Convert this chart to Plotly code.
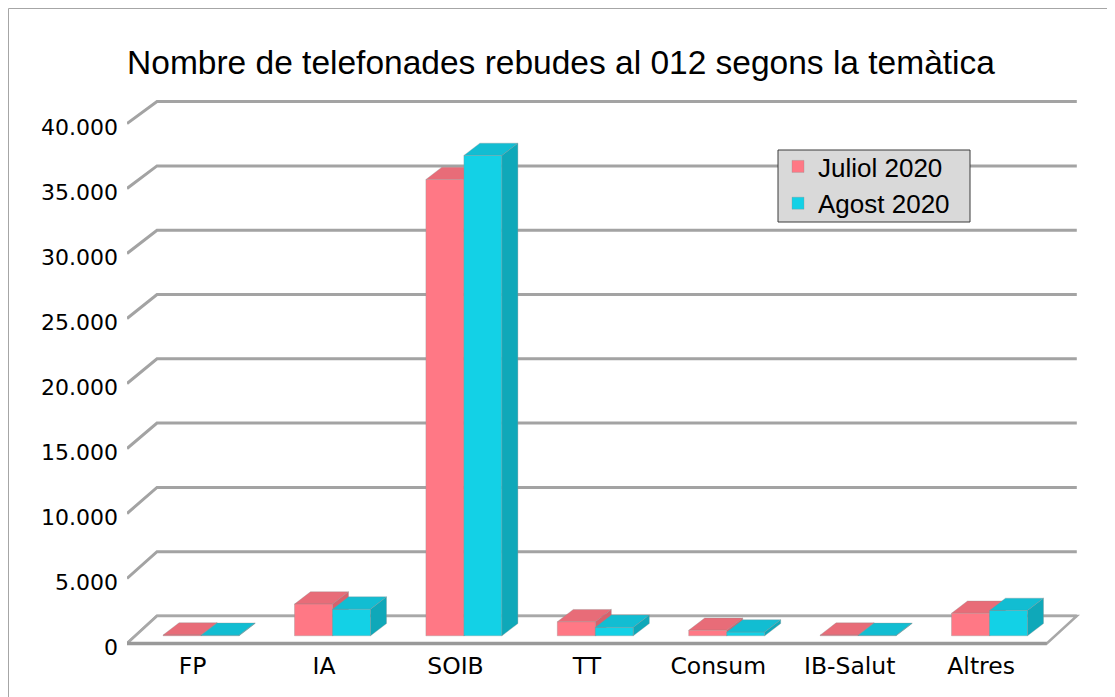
import plotly.graph_objects as go

# ---------------- data ----------------
categories = ["FP", "IA", "SOIB", "TT", "Consum", "IB-Salut", "Altres"]
juliol_2020 = [60, 2440, 35100, 1080, 420, 50, 1730]
agost_2020 = [40, 2050, 36950, 650, 290, 30, 1950]
series_names = ["Juliol 2020", "Agost 2020"]
y_ticks = [0, 5000, 10000, 15000, 20000, 25000, 30000, 35000, 40000]
title_text = "Nombre de telefonades rebudes al 012 segons la temàtica"

# ---------------- layout geometry (figure pixel coords) ----------------
W, H = 1115, 697
ML, MR, MT, MB = 119, 43, 87, 50
PX_PER_CAT = 131.4
PX_PER_VAL = 0.013          # front plane scale
BACK_K = 0.01286 / 0.013    # back wall is slightly compressed (perspective)
FRONT_ZERO_PX = 635.5

plot_w = W - ML - MR
plot_h = H - MT - MB
x_min = -0.5
x_max = x_min + plot_w / PX_PER_CAT
y_min = -(H - MB - FRONT_ZERO_PX) / PX_PER_VAL
y_max = y_min + plot_h / PX_PER_VAL


def dxu(px):
    return px / PX_PER_CAT


def dyu(px):
    return px / PX_PER_VAL


def paper_x(px):
    return (px - ML) / plot_w


def paper_y(py):
    return (H - MB - py) / plot_h


WALL_DX, WALL_DY = dxu(30), dyu(27.5)
BAR_F = 0.28
BAR_X0 = BAR_F * WALL_DX
BAR_BASE = BAR_F * WALL_DY
BAR_W = dxu(38)
TOP_DX, TOP_DY = dxu(16), dyu(12.3)
x_last = len(categories) - 0.5

front_cols = ["#ff7885", "#13d1e6"]
top_cols = ["#e86c78", "#12bdd2"]
side_cols = ["#d8616c", "#0fa8b9"]
edge_col = "rgba(140,140,140,0.55)"

shapes = []
# back wall grid lines (diagonal + horizontal)
for v in y_ticks:
    vb = WALL_DY + v * BACK_K
    shapes.append(dict(
        type="path", xref="x", yref="y", layer="below",
        path=f"M {x_min},{v} L {x_min + WALL_DX},{vb} L {x_last + WALL_DX},{vb}",
        line=dict(color="#a3a3a3", width=3)))
# floor
shapes.append(dict(
    type="path", xref="x", yref="y", layer="below",
    path=(f"M {x_min},0 L {x_last},0 L {x_last + WALL_DX},{WALL_DY} "
          f"L {x_min + WALL_DX},{WALL_DY} Z"),
    fillcolor="white", line=dict(color="#a8a8a8", width=2.5)))
shapes.append(dict(
    type="path", xref="x", yref="y", layer="below",
    path=f"M {x_min},0 L {x_last},0",
    line=dict(color="#999999", width=3.5)))

fig = go.Figure()
for s, (name, vals) in enumerate(zip(series_names, [juliol_2020, agost_2020])):
    centers = [i + BAR_X0 for i in range(len(categories))]
    offset = -BAR_W if s == 0 else 0.0
    fig.add_trace(go.Bar(
        name=name, x=centers, y=vals, base=BAR_BASE, width=BAR_W, offset=offset,
        legendgroup=name,
        marker=dict(color=front_cols[s], line=dict(color=edge_col, width=0.6)),
        showlegend=True))
    layer = "between" if s == 0 else "above"
    for c, v in zip(centers, vals):
        x0 = c + offset
        x1 = x0 + BAR_W
        top = BAR_BASE + v
        shapes.append(dict(
            type="path", xref="x", yref="y", layer=layer,
            path=(f"M {x0},{top} L {x1},{top} L {x1 + TOP_DX},{top + TOP_DY} "
                  f"L {x0 + TOP_DX},{top + TOP_DY} Z"),
            fillcolor=top_cols[s], line=dict(color=edge_col, width=0.6)))
        shapes.append(dict(
            type="path", xref="x", yref="y", layer=layer,
            path=(f"M {x1},{BAR_BASE} L {x1 + TOP_DX},{BAR_BASE + TOP_DY} "
                  f"L {x1 + TOP_DX},{top + TOP_DY} L {x1},{top} Z"),
            fillcolor=side_cols[s], line=dict(color=edge_col, width=0.6)))

# legend box
shapes.append(dict(
    type="rect", xref="paper", yref="paper", layer="above",
    x0=paper_x(770), x1=paper_x(962), y0=paper_y(214), y1=paper_y(142),
    fillcolor="#d9d9d9", line=dict(color="#3a3a3a", width=1)))

# outer frame (paper coords)
shapes.append(dict(
    type="path", xref="paper", yref="paper", layer="above",
    path=(f"M {paper_x(0.5)},{paper_y(720)} L {paper_x(0.5)},{paper_y(0.5)} "
          f"L {paper_x(1104.5)},{paper_y(0.5)} L {paper_x(1104.5)},{paper_y(720)}"),
    line=dict(color="#a6a6a6", width=1)))

fig.update_layout(
    width=W, height=H, autosize=False,
    margin=dict(l=ML, r=MR, t=MT, b=MB, pad=0),
    paper_bgcolor="white", plot_bgcolor="white",
    separators=",.",
    barmode="overlay",
    shapes=shapes,
    title=dict(text=title_text, x=553 / W, xref="container", xanchor="center",
               y=1 - 54 / H, yref="container", yanchor="middle",
               font=dict(family="Liberation Sans", size=33.5, color="black")),
    legend=dict(x=paper_x(770), y=paper_y(135),
                xanchor="left", yanchor="top", traceorder="grouped", tracegroupgap=0,
                bgcolor="rgba(0,0,0,0)", borderwidth=0,
                font=dict(family="Liberation Sans", size=26, color="black")),
    xaxis=dict(range=[x_min, x_max], tickvals=list(range(len(categories))),
               ticktext=categories, showgrid=False, zeroline=False, showline=False,
               ticks="", ticklabelstandoff=-6,
               tickfont=dict(family="DejaVu Sans", size=23.5, color="black")),
    yaxis=dict(range=[y_min, y_max], tickvals=y_ticks, tickformat=",d",
               showgrid=False, zeroline=False, showline=False, ticks="",
               ticklabelstandoff=8, ticklabelshift=4,
               tickfont=dict(family="DejaVu Sans", size=22, color="black")),
)

fig.write_html("out.html")
